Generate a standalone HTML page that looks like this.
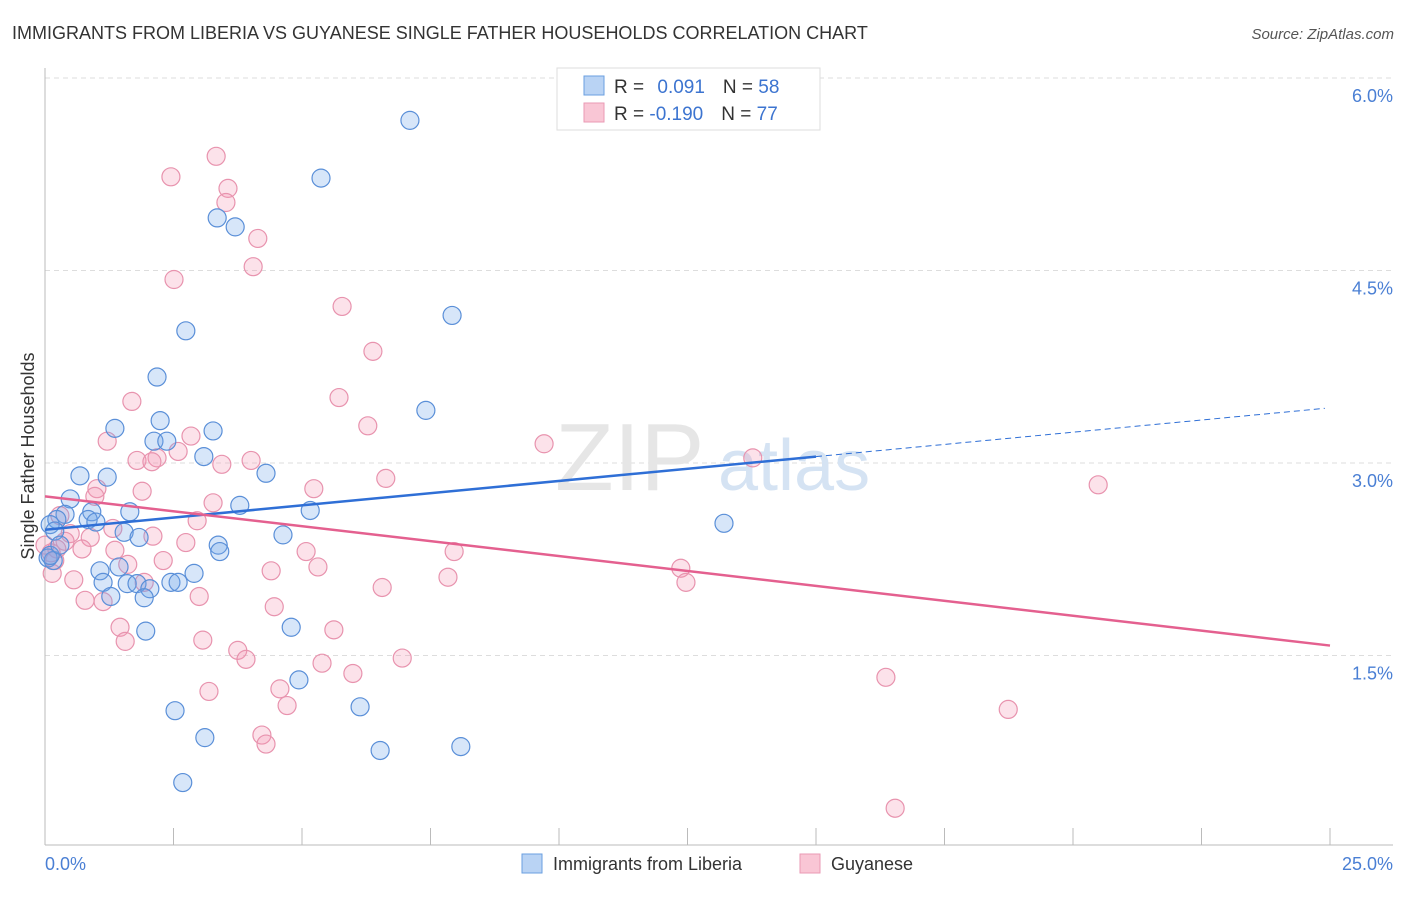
<!DOCTYPE html>
<html><head><meta charset="utf-8"><style>
body{margin:0;background:#fff;font-family:"Liberation Sans",sans-serif}
svg text{font-family:"Liberation Sans",sans-serif}
</style></head><body>
<svg id="chart" width="1406" height="892" xmlns="http://www.w3.org/2000/svg">
<text x="12" y="39" font-size="18" fill="#333">IMMIGRANTS FROM LIBERIA VS GUYANESE SINGLE FATHER HOUSEHOLDS CORRELATION CHART</text>
<text x="1394" y="39" font-size="15" fill="#555" font-style="italic" text-anchor="end">Source: ZipAtlas.com</text>
<g id="grid"></g>
<g>
<text x="555" y="490" font-size="96" fill="#e6e6e6" font-family="Liberation Serif">ZIP</text>
<text x="718" y="490" font-size="72" fill="#d5e3f3">atlas</text>
</g>
<g id="axes"></g>
<g id="pts"></g>
<g id="trends"></g>
<text transform="translate(34,456) rotate(-90)" font-size="18" fill="#333" text-anchor="middle">Single Father Households</text>
<g>
<rect x="557" y="68" width="263" height="62" fill="#fff" stroke="#ddd"/>
<rect x="584" y="76" width="20" height="19" fill="#b9d3f4" stroke="#6a9fe0"/>
<rect x="584" y="103" width="20" height="19" fill="#f9c6d5" stroke="#ea9ab4"/>
<text x="614" y="93" font-size="19" fill="#333">R = <tspan fill="#3c74d0" dx="8">0.091</tspan><tspan dx="18" fill="#333">N = </tspan><tspan fill="#3c74d0">58</tspan></text>
<text x="614" y="120" font-size="19" fill="#333">R = <tspan fill="#3c74d0">-0.190</tspan><tspan dx="18" fill="#333">N = </tspan><tspan fill="#3c74d0">77</tspan></text>
</g>
<g>
<rect x="522" y="854" width="20" height="19" fill="#b9d3f4" stroke="#6a9fe0"/>
<text x="553" y="870" font-size="18" fill="#333">Immigrants from Liberia</text>
<rect x="800" y="854" width="20" height="19" fill="#f9c6d5" stroke="#ea9ab4"/>
<text x="831" y="870" font-size="18" fill="#333">Guyanese</text>
</g>
</svg>
<script>
const xTicks=[0,2.5,5,7.5,10,12.5,15,17.5,20,22.5,25];
const yTicks=[1.5,3.0,4.5,6.0];
const yTickLabels=["1.5%","3.0%","4.5%","6.0%"];
const xEndLabels=["0.0%","25.0%"];
const blueX=[7.10,5.37,3.35,3.70,7.92,2.74,2.18,7.41,2.24,1.36,3.27,2.12,2.37,3.09,4.30,0.68,1.21,0.49,3.79,1.65,5.16,0.39,0.91,0.23,0.84,0.99,0.10,13.21,1.54,0.19,4.63,1.83,3.37,3.40,0.06,0.16,1.07,1.44,2.90,1.13,1.60,1.79,2.45,2.59,2.04,1.28,1.93,4.79,1.96,4.94,6.13,2.53,3.11,6.52,8.09,2.68,0.10,0.29];
const blueY=[5.67,5.22,4.91,4.84,4.15,4.03,3.67,3.41,3.33,3.27,3.25,3.17,3.17,3.05,2.92,2.90,2.89,2.72,2.67,2.62,2.63,2.60,2.62,2.56,2.56,2.54,2.52,2.53,2.46,2.47,2.44,2.42,2.36,2.31,2.26,2.24,2.16,2.19,2.14,2.07,2.06,2.06,2.07,2.07,2.02,1.96,1.95,1.72,1.69,1.31,1.10,1.07,0.86,0.76,0.79,0.51,2.28,2.36];
const pinkX=[3.33,2.45,3.56,3.52,4.14,2.51,4.05,5.78,6.38,5.72,1.69,6.28,1.21,9.71,2.84,1.79,2.18,2.08,2.59,3.44,4.01,6.63,20.49,1.01,5.23,1.89,3.27,13.77,0.97,0.29,2.96,1.32,0.49,2.10,0.88,0.39,2.74,0.72,0.23,0.12,1.36,5.08,7.96,2.30,1.61,5.31,4.40,7.84,12.37,12.47,0.14,0.56,6.56,1.93,1.13,3.00,4.46,1.46,5.62,1.56,3.07,3.75,3.91,5.39,6.95,5.99,16.36,3.19,4.57,4.71,18.74,4.22,4.30,16.54,0.78,0.19,0.00];
const pinkY=[5.39,5.23,5.14,5.03,4.75,4.43,4.53,4.22,3.87,3.51,3.48,3.29,3.17,3.15,3.21,3.02,3.04,3.01,3.09,2.99,3.02,2.88,2.83,2.80,2.80,2.78,2.69,3.04,2.74,2.59,2.55,2.49,2.45,2.43,2.42,2.39,2.38,2.33,2.33,2.30,2.32,2.31,2.31,2.24,2.21,2.19,2.16,2.11,2.18,2.07,2.14,2.09,2.03,2.07,1.92,1.96,1.88,1.72,1.70,1.61,1.62,1.54,1.47,1.44,1.48,1.36,1.33,1.22,1.24,1.11,1.08,0.88,0.81,0.31,1.93,2.24,2.36];
const blueTrend=[2.48,0.038];
const pinkTrend=[2.74,-0.0465];
const NS="http://www.w3.org/2000/svg";
const X=v=>45+v*51.4, Y=v=>848-v*128.33;
function mk(tag,attrs,parent){const e=document.createElementNS(NS,tag);for(const k in attrs)e.setAttribute(k,attrs[k]);document.getElementById(parent).appendChild(e);return e;}
yTicks.forEach((t,i)=>{
 const l=mk('line',{x1:45,x2:1393,y1:Y(t),y2:Y(t),stroke:'#ddd','stroke-dasharray':'5,4'},'grid');
 
 
 const tx=mk('text',{x:1393,y:Y(t)+24,'font-size':18,fill:'#4a7fd4','text-anchor':'end'},'axes');
 tx.textContent=yTickLabels[i];
 
 
});
const ax=mk('line',{x1:45,x2:45,y1:68,y2:845,stroke:'#bbb'},'axes');


const bx=mk('line',{x1:45,x2:1393,y1:845,y2:845,stroke:'#bbb'},'axes');


xTicks.forEach(t=>{
 const l=mk('line',{x1:X(t),x2:X(t),y1:828,y2:845,stroke:'#bbb'},'axes');
 
 
});
const xl0=mk('text',{x:45,y:870,'font-size':18,fill:'#4a7fd4'},'axes');xl0.textContent=xEndLabels[0];


const xl1=mk('text',{x:1393,y:870,'font-size':18,fill:'#4a7fd4','text-anchor':'end'},'axes');xl1.textContent=xEndLabels[1];


pinkX.forEach((x,i)=>{
 const c=mk('circle',{cx:X(x),cy:Y(pinkY[i]),r:9,fill:'rgba(244,150,180,0.28)',stroke:'#e893ae','stroke-width':1.2},'pts');
 
 
});
blueX.forEach((x,i)=>{
 const c=mk('circle',{cx:X(x),cy:Y(blueY[i]),r:9,fill:'rgba(110,165,235,0.28)',stroke:'#5a8fd8','stroke-width':1.2},'pts');
 
 
});
const bt=v=>blueTrend[0]+blueTrend[1]*v, pt=v=>pinkTrend[0]+pinkTrend[1]*v;
const l1=mk('line',{x1:X(0),y1:Y(bt(0)),x2:X(15),y2:Y(bt(15)),stroke:'#2f6fd6','stroke-width':2.5},'trends');


const l2=mk('line',{x1:X(15),y1:Y(bt(15)),x2:X(24.9),y2:Y(bt(24.9)),stroke:'#2f6fd6','stroke-width':1,'stroke-dasharray':'6,4'},'trends');


const l3=mk('line',{x1:X(0),y1:Y(pt(0)),x2:X(25),y2:Y(pt(25)),stroke:'#e4608f','stroke-width':2.5},'trends');


</script>
</body></html>
